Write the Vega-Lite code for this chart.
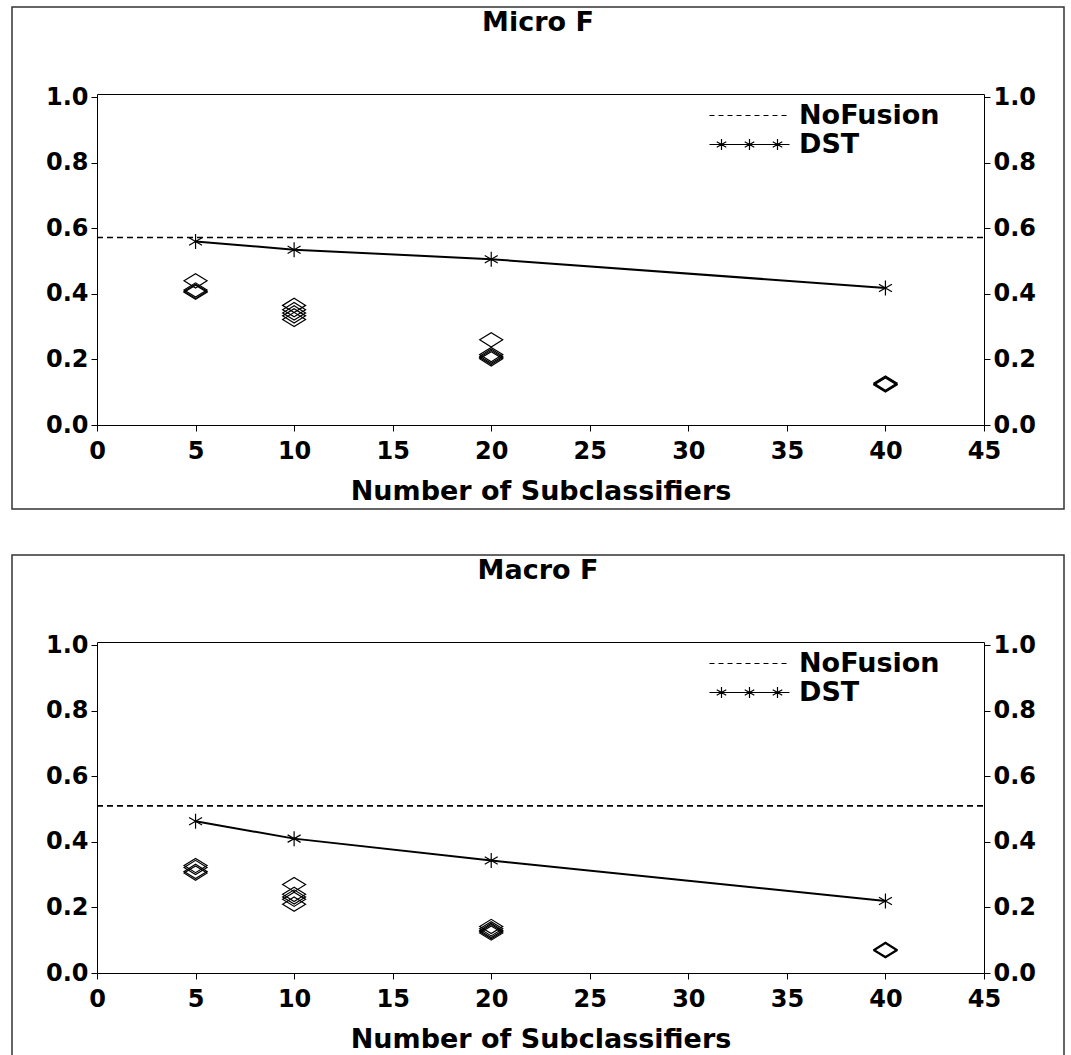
{
  "$schema": "https://vega.github.io/schema/vega-lite/v6.json",
  "padding": {"left": 11, "top": 6, "right": 0, "bottom": 0},
  "background": "white",
  "config": {
    "font": "DejaVu Sans",
    "view": {"stroke": "#333333", "strokeWidth": 1.5},
    "axis": {"grid": false, "domainColor": "black", "tickColor": "black", "labelColor": "black", "titleColor": "black", "labelFont": "DejaVu Sans", "titleFont": "DejaVu Sans", "labelFontSize": 24, "labelFontWeight": "bold", "titleFontSize": 27, "titleFontWeight": "bold", "labelFlush": false, "labelOverlap": false, "tickSize": 6, "domainWidth": 1, "tickWidth": 1},
    "title": {"font": "DejaVu Sans", "fontSize": 27, "fontWeight": "bold", "color": "black", "anchor": "middle", "offset": -30, "baseline": "alphabetic"},
    "legend": {"labelFont": "DejaVu Sans", "labelFontSize": 27, "labelFontWeight": "bold", "labelColor": "black"}
  },
  "resolve": {"scale": {"shape": "independent"}, "legend": {"shape": "independent"}},
  "spacing": 44,
  "vconcat": [
    {
      "width": 1052, "height": 502,
      "title": "Micro F",
      "resolve": {"axis": {"x": "independent", "y": "independent"}},
      "layer": [
        {
          "data": {"values": [{"series": "NoFusion", "value": 0.572}]},
          "mark": {"type": "rule", "color": "black", "strokeWidth": 1.6, "strokeDash": [6, 4]},
          "encoding": {
            "x": {"datum": 0, "type": "quantitative", "scale": {"domain": [0, 45], "range": [85, 972], "nice": false, "zero": false},
                  "axis": {"orient": "bottom", "offset": -84, "values": [0, 5, 10, 15, 20, 25, 30, 35, 40, 45], "labelPadding": 8, "title": "Number of Subclassifiers", "titlePadding": 15}},
            "x2": {"datum": 45},
            "y": {"field": "value", "type": "quantitative", "scale": {"domain": [0, 1.01], "range": [418, 87], "nice": false, "zero": false},
                  "axis": {"orient": "left", "offset": -85, "values": [0, 0.2, 0.4, 0.6, 0.8, 1.0], "format": ".1f", "title": null, "labelPadding": 3}}
          }
        },
        {
          "data": {"values": [{"n": 5, "value": 0.56}, {"n": 10, "value": 0.535}, {"n": 20, "value": 0.506}, {"n": 40, "value": 0.418}]},
          "mark": {"type": "line", "color": "black", "strokeWidth": 2},
          "encoding": {
            "x": {"field": "n", "type": "quantitative", "axis": {"orient": "top", "offset": -87, "ticks": false, "labels": false, "title": null}},
            "y": {"field": "value", "type": "quantitative", "axis": {"orient": "right", "offset": -80, "values": [0, 0.2, 0.4, 0.6, 0.8, 1.0], "format": ".1f", "title": null, "labelPadding": 3}}
          }
        },
        {
          "data": {"values": [{"n": 5, "value": 0.56}, {"n": 10, "value": 0.535}, {"n": 20, "value": 0.506}, {"n": 40, "value": 0.418}]},
          "mark": {"type": "point", "shape": "M0,-1L0,1M-0.866,-0.5L0.866,0.5M-0.866,0.5L0.866,-0.5", "size": 225, "filled": false, "color": "black", "strokeWidth": 1.2, "opacity": 1},
          "encoding": {
            "x": {"field": "n", "type": "quantitative", "axis": null},
            "y": {"field": "value", "type": "quantitative", "axis": null}
          }
        },
        {
          "data": {"values": [
            {"n": 5, "value": 0.44}, {"n": 5, "value": 0.412}, {"n": 5, "value": 0.408}, {"n": 5, "value": 0.405},
            {"n": 10, "value": 0.365}, {"n": 10, "value": 0.352}, {"n": 10, "value": 0.342}, {"n": 10, "value": 0.333}, {"n": 10, "value": 0.322},
            {"n": 20, "value": 0.26}, {"n": 20, "value": 0.215}, {"n": 20, "value": 0.21}, {"n": 20, "value": 0.206}, {"n": 20, "value": 0.202},
            {"n": 40, "value": 0.128}, {"n": 40, "value": 0.125}, {"n": 40, "value": 0.124}, {"n": 40, "value": 0.122}
          ]},
          "mark": {"type": "point", "shape": "M-1,0L0,-0.62L1,0L0,0.62Z", "size": 529, "filled": false, "color": "black", "strokeWidth": 1.2, "opacity": 1},
          "encoding": {
            "x": {"field": "n", "type": "quantitative", "axis": null},
            "y": {"field": "value", "type": "quantitative", "axis": null}
          }
        },
        {
          "data": {"values": [{"series": "NoFusion"}, {"series": "DST"}]},
          "mark": {"type": "point", "filled": false, "color": "black", "opacity": 0},
          "encoding": {
            "shape": {"field": "series", "type": "nominal",
              "scale": {"domain": ["NoFusion", "DST"], "range": [
                "M-4,0L-3.5,0M-3.1,0L-2.6,0M-2.2,0L-1.7,0M-1.3,0L-0.8,0M-0.4,0L0.1,0M0.5,0L1,0M1.4,0L1.9,0M2.3,0L2.8,0M3.2,0L3.7,0",
                "M-4,0L4,0M-2.8,-0.55L-2.8,0.55M-3.276,-0.275L-2.324,0.275M-3.276,0.275L-2.324,-0.275M0,-0.55L0,0.55M-0.476,-0.275L0.476,0.275M-0.476,0.275L0.476,-0.275M2.8,-0.55L2.8,0.55M2.324,-0.275L3.276,0.275M2.324,0.275L3.276,-0.275"
              ]},
              "legend": {"orient": "none", "legendX": 724, "legendY": 95, "title": null, "symbolSize": 400, "symbolStrokeColor": "black", "symbolStrokeWidth": 1.2, "symbolFillColor": "transparent", "labelOffset": 36, "rowPadding": 1,
                "encode": {"symbols": {"update": {"opacity": {"value": 1}, "stroke": {"value": "black"}, "fill": {"value": "transparent"}}}}}
            }
          }
        }
      ]
    },
    {
      "width": 1052, "height": 502,
      "title": "Macro F",
      "resolve": {"axis": {"x": "independent", "y": "independent"}},
      "layer": [
        {
          "data": {"values": [{"series": "NoFusion", "value": 0.51}]},
          "mark": {"type": "rule", "color": "black", "strokeWidth": 1.6, "strokeDash": [6, 4]},
          "encoding": {
            "x": {"datum": 0, "type": "quantitative", "scale": {"domain": [0, 45], "range": [85, 972], "nice": false, "zero": false},
                  "axis": {"orient": "bottom", "offset": -84, "values": [0, 5, 10, 15, 20, 25, 30, 35, 40, 45], "labelPadding": 8, "title": "Number of Subclassifiers", "titlePadding": 15}},
            "x2": {"datum": 45},
            "y": {"field": "value", "type": "quantitative", "scale": {"domain": [0, 1.01], "range": [418, 87], "nice": false, "zero": false},
                  "axis": {"orient": "left", "offset": -85, "values": [0, 0.2, 0.4, 0.6, 0.8, 1.0], "format": ".1f", "title": null, "labelPadding": 3}}
          }
        },
        {
          "data": {"values": [{"n": 5, "value": 0.463}, {"n": 10, "value": 0.41}, {"n": 20, "value": 0.343}, {"n": 40, "value": 0.22}]},
          "mark": {"type": "line", "color": "black", "strokeWidth": 2},
          "encoding": {
            "x": {"field": "n", "type": "quantitative", "axis": {"orient": "top", "offset": -87, "ticks": false, "labels": false, "title": null}},
            "y": {"field": "value", "type": "quantitative", "axis": {"orient": "right", "offset": -80, "values": [0, 0.2, 0.4, 0.6, 0.8, 1.0], "format": ".1f", "title": null, "labelPadding": 3}}
          }
        },
        {
          "data": {"values": [{"n": 5, "value": 0.463}, {"n": 10, "value": 0.41}, {"n": 20, "value": 0.343}, {"n": 40, "value": 0.22}]},
          "mark": {"type": "point", "shape": "M0,-1L0,1M-0.866,-0.5L0.866,0.5M-0.866,0.5L0.866,-0.5", "size": 225, "filled": false, "color": "black", "strokeWidth": 1.2, "opacity": 1},
          "encoding": {
            "x": {"field": "n", "type": "quantitative", "axis": null},
            "y": {"field": "value", "type": "quantitative", "axis": null}
          }
        },
        {
          "data": {"values": [
            {"n": 5, "value": 0.328}, {"n": 5, "value": 0.322}, {"n": 5, "value": 0.31}, {"n": 5, "value": 0.305},
            {"n": 10, "value": 0.27}, {"n": 10, "value": 0.24}, {"n": 10, "value": 0.232}, {"n": 10, "value": 0.225}, {"n": 10, "value": 0.21},
            {"n": 20, "value": 0.142}, {"n": 20, "value": 0.135}, {"n": 20, "value": 0.13}, {"n": 20, "value": 0.126}, {"n": 20, "value": 0.122},
            {"n": 40, "value": 0.072}, {"n": 40, "value": 0.07}, {"n": 40, "value": 0.068}
          ]},
          "mark": {"type": "point", "shape": "M-1,0L0,-0.62L1,0L0,0.62Z", "size": 529, "filled": false, "color": "black", "strokeWidth": 1.2, "opacity": 1},
          "encoding": {
            "x": {"field": "n", "type": "quantitative", "axis": null},
            "y": {"field": "value", "type": "quantitative", "axis": null}
          }
        },
        {
          "data": {"values": [{"series": "NoFusion"}, {"series": "DST"}]},
          "mark": {"type": "point", "filled": false, "color": "black", "opacity": 0},
          "encoding": {
            "shape": {"field": "series", "type": "nominal",
              "scale": {"domain": ["NoFusion", "DST"], "range": [
                "M-4,0L-3.5,0M-3.1,0L-2.6,0M-2.2,0L-1.7,0M-1.3,0L-0.8,0M-0.4,0L0.1,0M0.5,0L1,0M1.4,0L1.9,0M2.3,0L2.8,0M3.2,0L3.7,0",
                "M-4,0L4,0M-2.8,-0.55L-2.8,0.55M-3.276,-0.275L-2.324,0.275M-3.276,0.275L-2.324,-0.275M0,-0.55L0,0.55M-0.476,-0.275L0.476,0.275M-0.476,0.275L0.476,-0.275M2.8,-0.55L2.8,0.55M2.324,-0.275L3.276,0.275M2.324,0.275L3.276,-0.275"
              ]},
              "legend": {"orient": "none", "legendX": 724, "legendY": 95, "title": null, "symbolSize": 400, "symbolStrokeColor": "black", "symbolStrokeWidth": 1.2, "symbolFillColor": "transparent", "labelOffset": 36, "rowPadding": 1,
                "encode": {"symbols": {"update": {"opacity": {"value": 1}, "stroke": {"value": "black"}, "fill": {"value": "transparent"}}}}}
            }
          }
        }
      ]
    }
  ]
}
